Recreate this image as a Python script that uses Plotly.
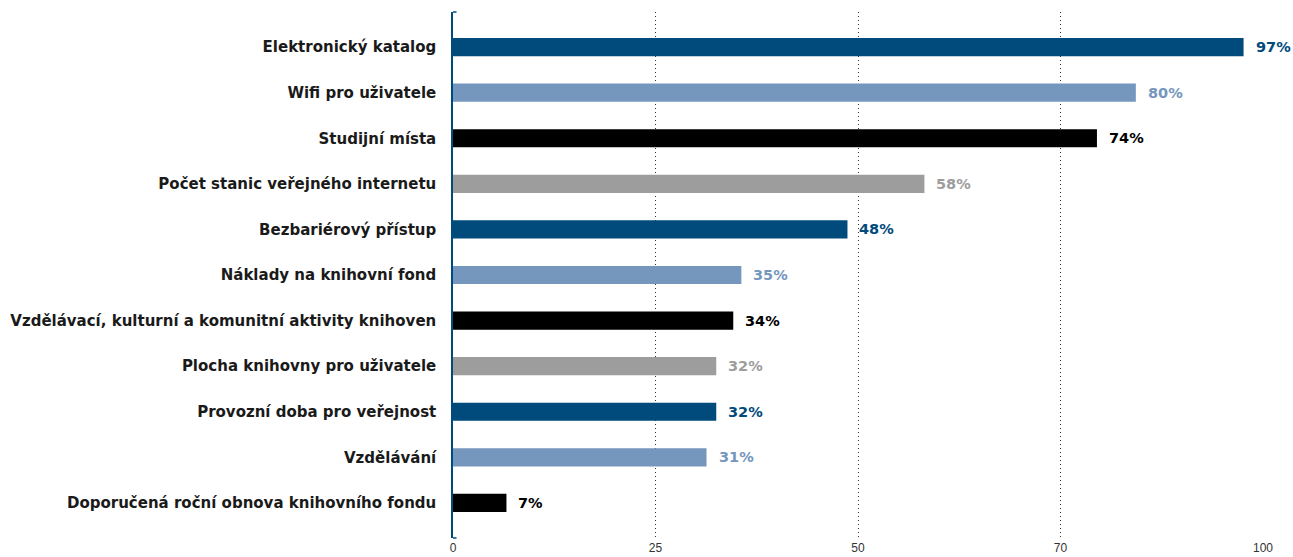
import plotly.graph_objects as go

categories = [
    "Elektronický katalog",
    "Wifi pro uživatele",
    "Studijní místa",
    "Počet stanic veřejného internetu",
    "Bezbariérový přístup",
    "Náklady na knihovní fond",
    "Vzdělávací, kulturní a komunitní aktivity knihoven",
    "Plocha knihovny pro uživatele",
    "Provozní doba pro veřejnost",
    "Vzdělávání",
    "Doporučená roční obnova knihovního fondu",
]
values = [97.6, 84.3, 79.5, 58.2, 48.7, 35.6, 34.6, 32.5, 32.5, 31.3, 6.6]
value_labels = ["97%", "80%", "74%", "58%", "48%", "35%", "34%", "32%", "32%", "31%", "7%"]
palette = ["#004A7C", "#7596BD", "#000000", "#9D9D9D"]
colors = [palette[i % 4] for i in range(len(categories))]
tick_vals = [0, 25, 50, 75, 100]
tick_text = ["0", "25", "50", "70", "100"]

FONT = "DejaVu Sans"

fig = go.Figure(go.Bar(
    x=values, y=categories, orientation="h",
    marker=dict(color=colors, line=dict(width=0)),
    width=0.4, hoverinfo="skip",
))

for c, v, lab, col in zip(categories, values, value_labels, colors):
    fig.add_annotation(x=v, y=c, text=f"<b>{lab}</b>", showarrow=False,
                       xanchor="left", xshift=10,
                       font=dict(family=FONT, size=14.5, color=col))

n = len(categories)
fig.update_layout(
    width=1293, height=557,
    margin=dict(l=453, r=30, t=12, b=19, autoexpand=False),
    plot_bgcolor="white", paper_bgcolor="white",
    showlegend=False,
    xaxis=dict(range=[0, 100], tickvals=tick_vals, ticktext=tick_text,
               automargin=False, ticklabelstandoff=1,
               showgrid=True, gridcolor="#333333", griddash="1px,3px", gridwidth=1,
               zeroline=False, showline=False, ticks="",
               tickfont=dict(family="Liberation Sans", size=12, color="#333333")),
    yaxis=dict(categoryorder="array", categoryarray=categories,
               range=[n - 1 + 0.77, -0.77], automargin=False,
               showline=True, linecolor="#004A7C", linewidth=1.5,
               showgrid=False, zeroline=False, ticks="",
               ticklabelstandoff=12,
               tickfont=dict(family=FONT, size=15, color="#1a1a1a", weight="bold")),
)

for yy in (0, 1):
    fig.add_shape(type="line", xref="x", yref="paper", xsizemode="pixel", xanchor=0,
                  x0=-3.5, x1=3.5, y0=yy, y1=yy, line=dict(color="#004A7C", width=1.5))

fig.write_html("out.html", config={"displayModeBar": False},
               post_script="document.body.style.margin='0';")
